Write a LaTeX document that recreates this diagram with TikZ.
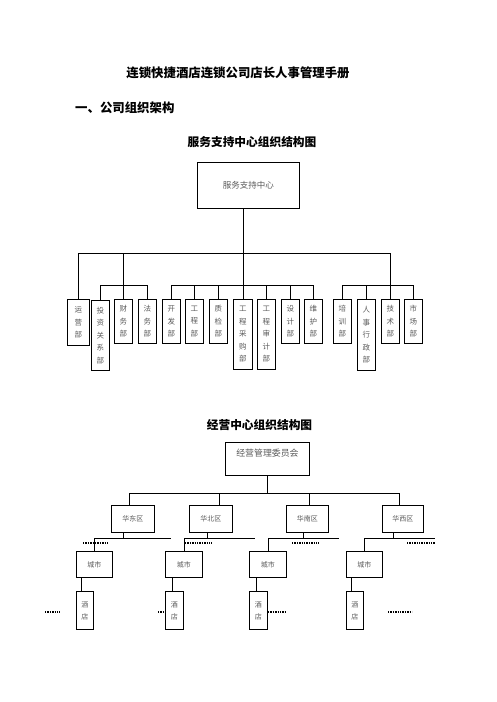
\documentclass[tikz,border=0pt]{standalone}
\usepackage{fontspec}
\newfontfamily\cjk{Noto Sans CJK SC}
\definecolor{txt}{RGB}{90,90,90}
\begin{document}
\begin{tikzpicture}[x=1pt,y=-1pt,
  bx/.style={draw, line width=0.9pt, inner sep=0pt, anchor=north west, text=txt, align=center},
  vt/.style={bx, font=\cjk\fontsize{7.5}{12.5}\selectfont, minimum width=18pt, minimum height=44pt},
  tall/.style={minimum height=70pt},
  ln/.style={line width=0.9pt},
  dots/.style={line width=1.4pt, dash pattern=on 1.4pt off 1pt},
  ttl/.style={font=\cjk\bfseries\fontsize{12.4}{14}\selectfont, text=black, inner sep=0pt},
  sttl/.style={font=\cjk\bfseries\fontsize{11.7}{14}\selectfont, text=black, inner sep=0pt}]
\useasboundingbox (0,0) rectangle (496,702);

% titles
\node[ttl] (t1) at (238,73) {连锁快捷酒店连锁公司店长人事管理手册};
\node[ttl, anchor=west] (t2) at (75,108) {一、公司组织架构};
\node[sttl] (t3) at (252,142) {服务支持中心组织结构图};

% chart 1
\node[bx, minimum width=102pt, minimum height=46pt, font=\cjk\fontsize{8.5}{10}\selectfont] (fw) at (197,162) {服务支持中心};

\node[vt, minimum width=22pt, minimum height=46pt] (yy) at (67,299) {运\\营\\部};
\node[vt, tall] (tz) at (91,300) {投\\资\\关\\系\\部};
\node[vt] (cw) at (114,299) {财\\务\\部};
\node[vt] (fa) at (138,299) {法\\务\\部};
\node[vt] (kf) at (162,299) {开\\发\\部};
\node[vt] (gc) at (185,299) {工\\程\\部};
\node[vt] (zj) at (209,299) {质\\检\\部};
\node[vt, tall, minimum width=19pt] (cg) at (233,299) {工\\程\\采\\购\\部};
\node[vt, tall] (sj) at (257,299) {工\\程\\审\\计\\部};
\node[vt] (shj) at (281,299) {设\\计\\部};
\node[vt] (wh) at (304,299) {维\\护\\部};
\node[vt] (px) at (333,299) {培\\训\\部};
\node[vt, tall, minimum height=71pt] (rs) at (357,299) {人\\事\\行\\政\\部};
\node[vt] (js) at (381,299) {技\\术\\部};
\node[vt] (sc) at (404,299) {市\\场\\部};

\coordinate (bus1) at (0,253);
\coordinate (bus2) at (0,285);
\draw[ln] (fw.south -| cg.north) -- (cg.north);
\draw[ln] (yy.north) -- (yy.north |- bus1) -- (js.north |- bus1) -- (js.north);
\draw[ln] (cw.north |- bus1) -- (cw.north);
\draw[ln] (tz.north) -- (tz.north |- bus2) -- (fa.north |- bus2) -- (fa.north);
\draw[ln] (kf.north) -- (kf.north |- bus2) -- (wh.north |- bus2) -- (wh.north);
\foreach \n in {gc,zj,sj,shj} \draw[ln] (\n.north |- bus2) -- (\n.north);
\draw[ln] (px.north) -- (px.north |- bus2) -- (sc.north |- bus2) -- (sc.north);
\draw[ln] (rs.north |- bus2) -- (rs.north);

% chart 2
\node[sttl] (t4) at (259.5,425) {经营中心组织结构图};
\node[bx, minimum width=84pt, font=\cjk\fontsize{8.9}{10}\selectfont, text height=14pt, text depth=19pt] (jy) at (225,442) {经营管理委员会};

\node[bx, minimum width=43pt, minimum height=27pt, font=\cjk\fontsize{7}{9}\selectfont] (hd) at (111,505) {华东区};
\node[bx, minimum width=43pt, minimum height=27pt, font=\cjk\fontsize{7}{9}\selectfont] (hb) at (189,505) {华北区};
\node[bx, minimum width=42pt, minimum height=27pt, font=\cjk\fontsize{7}{9}\selectfont] (hn) at (286,505) {华南区};
\node[bx, minimum width=41pt, minimum height=27pt, font=\cjk\fontsize{7}{9}\selectfont] (hx) at (382,505) {华西区};

\coordinate (r1) at (129,493);
\coordinate (r2) at (219,493);
\coordinate (r3) at (309,493);
\coordinate (r4) at (399,493);
\draw[ln] (jy.south) -- (jy.south |- r1);
\draw[ln] (r1 |- hd.north) -- (r1) -- (r4) -- (r4 |- hx.north);
\draw[ln] (r2) -- (r2 |- hb.north);
\draw[ln] (r3) -- (r3 |- hn.north);

\node[bx, minimum width=36pt, minimum height=26pt, font=\cjk\fontsize{7}{9}\selectfont] (cs1) at (76,551) {城市};
\node[bx, minimum width=37pt, minimum height=26pt, font=\cjk\fontsize{7}{9}\selectfont] (cs2) at (165,551) {城市};
\node[bx, minimum width=37pt, minimum height=26pt, font=\cjk\fontsize{7}{9}\selectfont] (cs3) at (249,551) {城市};
\node[bx, minimum width=36pt, minimum height=26pt, font=\cjk\fontsize{7}{9}\selectfont] (cs4) at (346,551) {城市};

\coordinate (d1) at (123,538);
\coordinate (d2) at (207,538);
\coordinate (d3) at (303,538);
\coordinate (d4) at (393,538);
\coordinate (e1) at (171,538);
\coordinate (e2) at (255,538);
\coordinate (e3) at (339,538);
\coordinate (e4) at (435,538);
\draw[ln] (d1 |- hd.south) -- (d1);
\draw[ln] (d2 |- hb.south) -- (d2);
\draw[ln] (d3 |- hn.south) -- (d3);
\draw[ln] (d4 |- hx.south) -- (d4);
\draw[ln] (cs1.north) -- (cs1.north |- e1) -- (e1);
\draw[ln] (cs2.north) -- (cs2.north |- e2) -- (e2);
\draw[ln] (cs3.north) -- (cs3.north |- e3) -- (e3);
\draw[ln] (cs4.north) -- (cs4.north |- e4) -- (e4);

\coordinate (p1a) at (83,543);  \coordinate (p1b) at (109,543);
\coordinate (p2a) at (185,543); \coordinate (p2b) at (212,543);
\coordinate (p3a) at (292,543); \coordinate (p3b) at (319,543);
\coordinate (p4a) at (407,543); \coordinate (p4b) at (435,543);
\draw[dots] (p1a) -- (p1b);
\draw[dots] (p2a) -- (p2b);
\draw[dots] (p3a) -- (p3b);
\draw[dots] (p4a) -- (p4b);

\node[bx, minimum width=17pt, minimum height=38pt, font=\cjk\fontsize{7}{12}\selectfont] (jd1) at (76,591) {酒\\店};
\node[bx, minimum width=18pt, minimum height=38pt, font=\cjk\fontsize{7}{12}\selectfont] (jd2) at (165,591) {酒\\店};
\node[bx, minimum width=18pt, minimum height=38pt, font=\cjk\fontsize{7}{12}\selectfont] (jd3) at (249,591) {酒\\店};
\node[bx, minimum width=17pt, minimum height=38pt, font=\cjk\fontsize{7}{12}\selectfont] (jd4) at (346,591) {酒\\店};

\coordinate (v1) at (81,0);
\coordinate (v2) at (172,0);
\coordinate (v3) at (256,0);
\coordinate (v4) at (351,0);
\draw[ln] (v1 |- cs1.south) -- (v1 |- jd1.north);
\draw[ln] (v2 |- cs2.south) -- (v2 |- jd2.north);
\draw[ln] (v3 |- cs3.south) -- (v3 |- jd3.north);
\draw[ln] (v4 |- cs4.south) -- (v4 |- jd4.north);

\coordinate (q1a) at (45,612);  \coordinate (q1b) at (60,612);
\coordinate (q2a) at (158,612); \coordinate (q2b) at (jd2.west |- q2a);
\coordinate (q3a) at (jd3.east |- q2a); \coordinate (q3b) at (286,612);
\coordinate (q4a) at (388,612); \coordinate (q4b) at (412,612);
\draw[dots, line width=1.2pt] (q1a) -- (q1b);
\draw[dots, line width=1.2pt] (q2a) -- (q2b);
\draw[dots, line width=1.2pt] (q3a) -- (q3b);
\draw[dots, line width=1.2pt] (q4a) -- (q4b);
\end{tikzpicture}
\end{document}
